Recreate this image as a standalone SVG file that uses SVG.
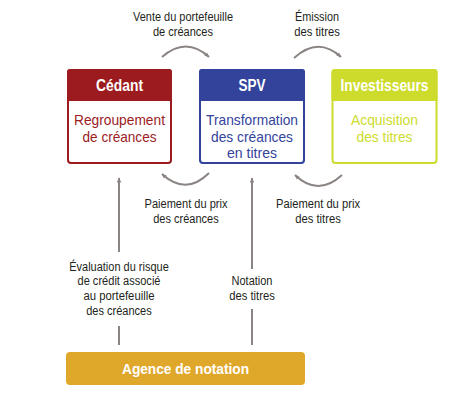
<svg xmlns="http://www.w3.org/2000/svg" width="461" height="405" viewBox="0 0 461 405">
<defs>
<style>
text{font-family:"Liberation Sans",Arial,sans-serif;text-anchor:middle}
.lbl{font-size:12.5px;fill:#231f20}
.hd{font-size:16px;font-weight:bold;fill:#fff}
.ag{font-size:15.5px;font-weight:bold;fill:#fff}
.bd{font-size:15px}
.con{fill:none;stroke:#8a8482;stroke-width:2}
</style>
<marker id="ah" viewBox="0 0 10 10" refX="9" refY="5" markerWidth="5" markerHeight="5" orient="auto" markerUnits="userSpaceOnUse">
<path d="M0,1 L10,5 L0,9 Z" fill="#8a8482"/>
</marker>
<marker id="ahv" viewBox="0 0 10 10" refX="9" refY="5" markerWidth="9" markerHeight="5" orient="auto" markerUnits="userSpaceOnUse">
<path d="M0,0.5 L10,5 L0,9.5 Z" fill="#8a8482"/>
</marker>
</defs>
<rect width="461" height="405" fill="#fff"/>

<g id="connectors">
<path class="con" d="M162,57 Q186,36 209,57" marker-end="url(#ah)"/>
<path class="con" d="M294,58 Q318,36 341,57" marker-end="url(#ah)"/>
<path class="con" d="M209,173 Q186,196 162,174" marker-end="url(#ah)"/>
<path class="con" d="M342,175 Q318,197 295,175" marker-end="url(#ah)"/>
<path class="con" d="M119,345 L119,326 M119,252 L119,178" marker-end="url(#ahv)"/>
<path class="con" d="M252,345 L252,309 M252,269 L252,178" marker-end="url(#ahv)"/>
</g>

<g id="label-vente">
<text class="lbl" x="183" y="21" textLength="100" lengthAdjust="spacingAndGlyphs">Vente du portefeuille</text>
<text class="lbl" x="183" y="35.5" textLength="60" lengthAdjust="spacingAndGlyphs">de créances</text>
</g>
<g id="label-emission">
<text class="lbl" x="317" y="21" textLength="44" lengthAdjust="spacingAndGlyphs">Émission</text>
<text class="lbl" x="317" y="35.5" textLength="45.5" lengthAdjust="spacingAndGlyphs">des titres</text>
</g>
<g id="label-paiement-creances">
<text class="lbl" x="186" y="208" textLength="83" lengthAdjust="spacingAndGlyphs">Paiement du prix</text>
<text class="lbl" x="186" y="222.5" textLength="65.5" lengthAdjust="spacingAndGlyphs">des créances</text>
</g>
<g id="label-paiement-titres">
<text class="lbl" x="318" y="208" textLength="84" lengthAdjust="spacingAndGlyphs">Paiement du prix</text>
<text class="lbl" x="318" y="222.5" textLength="45.5" lengthAdjust="spacingAndGlyphs">des titres</text>
</g>
<g id="label-evaluation">
<text class="lbl" x="119" y="270.5" textLength="99.5" lengthAdjust="spacingAndGlyphs">Évaluation du risque</text>
<text class="lbl" x="119" y="285" textLength="83" lengthAdjust="spacingAndGlyphs">de crédit associé</text>
<text class="lbl" x="119" y="299.5" textLength="71" lengthAdjust="spacingAndGlyphs">au portefeuille</text>
<text class="lbl" x="119" y="314.5" textLength="65.5" lengthAdjust="spacingAndGlyphs">des créances</text>
</g>
<g id="label-notation">
<text class="lbl" x="252" y="285" textLength="41" lengthAdjust="spacingAndGlyphs">Notation</text>
<text class="lbl" x="252" y="299.5" textLength="45.5" lengthAdjust="spacingAndGlyphs">des titres</text>
</g>

<g id="cedant">
<rect x="68" y="70" width="103" height="93" rx="3" fill="#fff" stroke="#9b1b1e" stroke-width="2"/>
<path d="M67,101 V72 Q67,69 70,69 H169 Q172,69 172,72 V101 Z" fill="#9b1b1e"/>
<text class="hd" x="119.5" y="90.5" textLength="47" lengthAdjust="spacingAndGlyphs">Cédant</text>
<text class="bd" x="119.5" y="125" fill="#9b1b1e" textLength="91" lengthAdjust="spacingAndGlyphs">Regroupement</text>
<text class="bd" x="119.5" y="141.5" fill="#9b1b1e" textLength="74" lengthAdjust="spacingAndGlyphs">de créances</text>
</g>

<g id="spv">
<rect x="200" y="70" width="104" height="93" rx="3" fill="#fff" stroke="#33439b" stroke-width="2"/>
<path d="M199,101 V72 Q199,69 202,69 H302 Q305,69 305,72 V101 Z" fill="#33439b"/>
<text class="hd" x="252" y="90.5" textLength="27" lengthAdjust="spacingAndGlyphs">SPV</text>
<text class="bd" x="252" y="125" fill="#33439b" textLength="92" lengthAdjust="spacingAndGlyphs">Transformation</text>
<text class="bd" x="252" y="141.5" fill="#33439b" textLength="82" lengthAdjust="spacingAndGlyphs">des créances</text>
<text class="bd" x="252" y="158" fill="#33439b" textLength="50" lengthAdjust="spacingAndGlyphs">en titres</text>
</g>

<g id="investisseurs">
<rect x="332.5" y="70" width="104" height="93" rx="3" fill="#fff" stroke="#cddc2c" stroke-width="2"/>
<path d="M331.5,101 V72 Q331.5,69 334.5,69 H434.5 Q437.5,69 437.5,72 V101 Z" fill="#cddc2c"/>
<text class="hd" x="384.5" y="90.5" textLength="88" lengthAdjust="spacingAndGlyphs">Investisseurs</text>
<text class="bd" x="384.5" y="125" fill="#cddc2c" textLength="67" lengthAdjust="spacingAndGlyphs">Acquisition</text>
<text class="bd" x="384.5" y="141.5" fill="#cddc2c" textLength="56" lengthAdjust="spacingAndGlyphs">des titres</text>
</g>

<g id="agence">
<rect x="66" y="352" width="239" height="33" rx="4" fill="#e0a82a"/>
<text class="ag" x="185.5" y="373.5" textLength="127" lengthAdjust="spacingAndGlyphs">Agence de notation</text>
</g>
</svg>
